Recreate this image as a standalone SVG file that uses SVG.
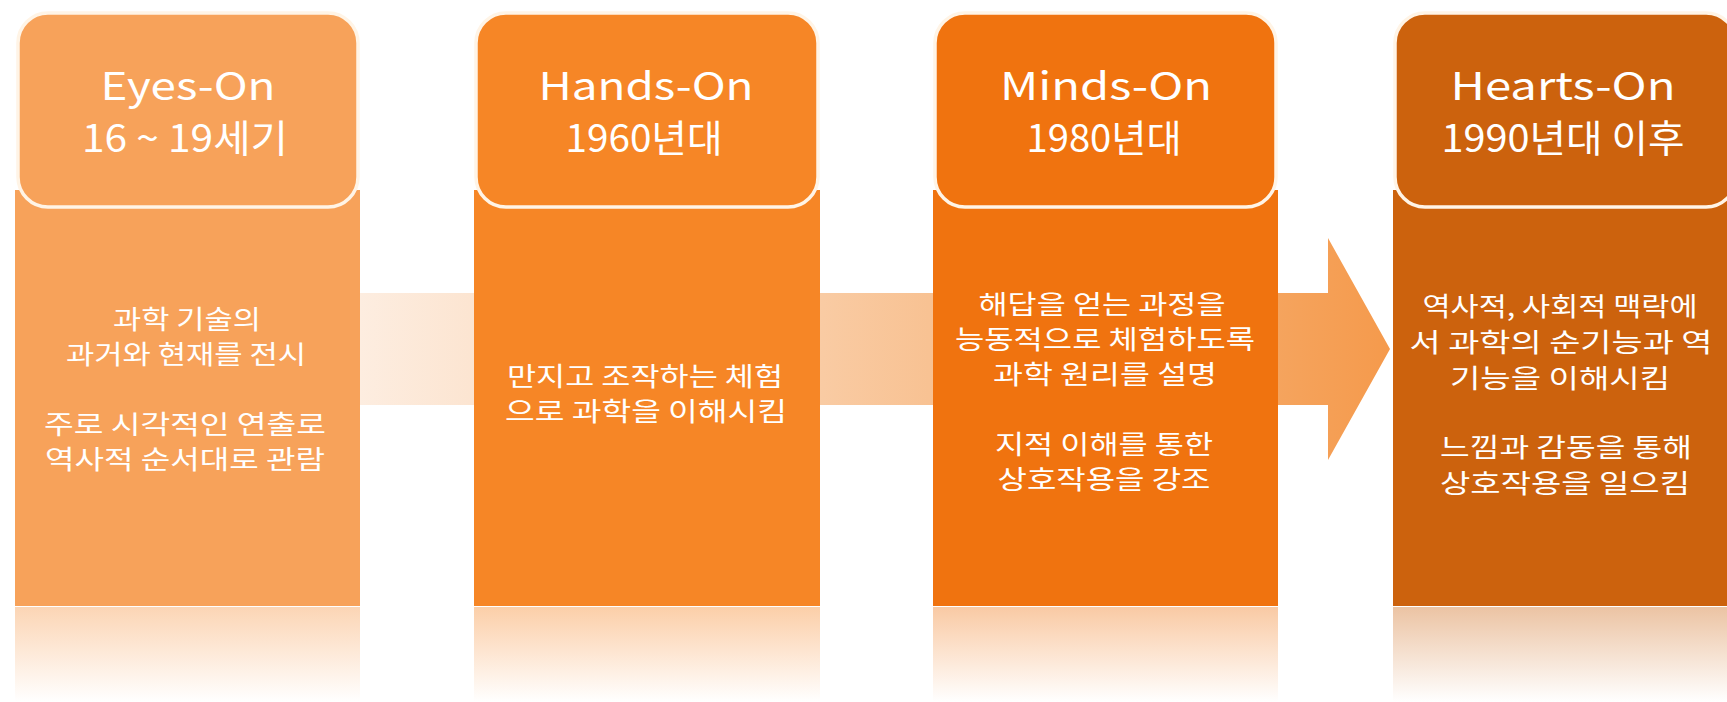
<svg xmlns="http://www.w3.org/2000/svg" width="1727" height="702" viewBox="0 0 1727 702">
<style>
.hd{font-family:"Noto Sans CJK KR","Noto Sans",sans-serif;font-size:38px;fill:#ffffff;text-anchor:middle}
.bd{font-family:"Noto Sans CJK KR","Noto Sans",sans-serif;font-size:26px;fill:#ffffff;text-anchor:middle}
.cap{stroke:#FFF4E6;stroke-width:3.5}
</style>
<defs>
<linearGradient id="arrowGrad" gradientUnits="userSpaceOnUse" x1="360" y1="0" x2="1390" y2="0">
<stop offset="0" stop-color="#FDEDE0"/>
<stop offset="0.45" stop-color="#F9CBA3"/>
<stop offset="0.9" stop-color="#F5A35C"/>
<stop offset="1" stop-color="#F59A4C"/>
</linearGradient>
<linearGradient id="ref1" x1="0" y1="0" x2="0" y2="1"><stop offset="0" stop-color="#F7A25A" stop-opacity="0.45"/><stop offset="1" stop-color="#F7A25A" stop-opacity="0"/></linearGradient>
<linearGradient id="ref2" x1="0" y1="0" x2="0" y2="1"><stop offset="0" stop-color="#F68626" stop-opacity="0.4"/><stop offset="1" stop-color="#F68626" stop-opacity="0"/></linearGradient>
<linearGradient id="ref3" x1="0" y1="0" x2="0" y2="1"><stop offset="0" stop-color="#F0730F" stop-opacity="0.38"/><stop offset="1" stop-color="#F0730F" stop-opacity="0"/></linearGradient>
<linearGradient id="ref4" x1="0" y1="0" x2="0" y2="1"><stop offset="0" stop-color="#CC620D" stop-opacity="0.38"/><stop offset="1" stop-color="#CC620D" stop-opacity="0"/></linearGradient>
</defs>
<rect width="1727" height="702" fill="#ffffff"/>
<g id="connectors">
<polygon points="200,293 1328,293 1328,238 1390,349 1328,460 1328,405 200,405" fill="url(#arrowGrad)"/>
</g>
<g id="node-eyes-on">
<rect x="15" y="190" width="345" height="416" fill="#F7A25A"/>
<rect x="15" y="607" width="345" height="95" fill="url(#ref1)"/>
<rect class="cap" x="18" y="13" width="340" height="194" rx="30" fill="#F7A25A"/>
<text class="hd" x="188" y="100" textLength="175" lengthAdjust="spacingAndGlyphs">Eyes-On</text>
<text class="hd" x="185" y="152" textLength="206" lengthAdjust="spacingAndGlyphs">16 ~ 19세기</text>
<text class="bd" x="187" y="329" textLength="148" lengthAdjust="spacingAndGlyphs">과학 기술의</text>
<text class="bd" x="186" y="364" textLength="240" lengthAdjust="spacingAndGlyphs">과거와 현재를 전시</text>
<text class="bd" x="185" y="434" textLength="282" lengthAdjust="spacingAndGlyphs">주로 시각적인 연출로</text>
<text class="bd" x="185" y="469" textLength="280" lengthAdjust="spacingAndGlyphs">역사적 순서대로 관람</text>
</g>
<g id="node-hands-on">
<rect x="474" y="190" width="346" height="416" fill="#F68626"/>
<rect x="474" y="607" width="346" height="95" fill="url(#ref2)"/>
<rect class="cap" x="476" y="13" width="342" height="194" rx="30" fill="#F68626"/>
<text class="hd" x="646" y="100" textLength="215" lengthAdjust="spacingAndGlyphs">Hands-On</text>
<text class="hd" x="644" y="152" textLength="157" lengthAdjust="spacingAndGlyphs">1960년대</text>
<text class="bd" x="645" y="386" textLength="276" lengthAdjust="spacingAndGlyphs">만지고 조작하는 체험</text>
<text class="bd" x="646" y="421" textLength="282" lengthAdjust="spacingAndGlyphs">으로 과학을 이해시킴</text>
</g>
<g id="node-minds-on">
<rect x="933" y="190" width="345" height="416" fill="#F0730F"/>
<rect x="933" y="607" width="345" height="95" fill="url(#ref3)"/>
<rect class="cap" x="935" y="13" width="341" height="194" rx="30" fill="#F0730F"/>
<text class="hd" x="1106" y="100" textLength="212" lengthAdjust="spacingAndGlyphs">Minds-On</text>
<text class="hd" x="1104" y="152" textLength="155" lengthAdjust="spacingAndGlyphs">1980년대</text>
<text class="bd" x="1102" y="314" textLength="247" lengthAdjust="spacingAndGlyphs">해답을 얻는 과정을</text>
<text class="bd" x="1105" y="349" textLength="300" lengthAdjust="spacingAndGlyphs">능동적으로 체험하도록</text>
<text class="bd" x="1105" y="384" textLength="224" lengthAdjust="spacingAndGlyphs">과학 원리를 설명</text>
<text class="bd" x="1104" y="454" textLength="218" lengthAdjust="spacingAndGlyphs">지적 이해를 통한</text>
<text class="bd" x="1104" y="489" textLength="213" lengthAdjust="spacingAndGlyphs">상호작용을 강조</text>
</g>
<g id="node-hearts-on">
<rect x="1393" y="190" width="345" height="416" fill="#CC620D"/>
<rect x="1393" y="607" width="345" height="95" fill="url(#ref4)"/>
<rect class="cap" x="1395" y="13" width="341" height="194" rx="30" fill="#CC620D"/>
<text class="hd" x="1563" y="100" textLength="225" lengthAdjust="spacingAndGlyphs">Hearts-On</text>
<text class="hd" x="1563" y="152" textLength="243" lengthAdjust="spacingAndGlyphs">1990년대 이후</text>
<text class="bd" x="1560" y="316" textLength="275" lengthAdjust="spacingAndGlyphs">역사적, 사회적 맥락에</text>
<text class="bd" x="1561" y="352" textLength="303" lengthAdjust="spacingAndGlyphs">서 과학의 순기능과 역</text>
<text class="bd" x="1560" y="388" textLength="220" lengthAdjust="spacingAndGlyphs">기능을 이해시킴</text>
<text class="bd" x="1566" y="457" textLength="252" lengthAdjust="spacingAndGlyphs">느낌과 감동을 통해</text>
<text class="bd" x="1565" y="493" textLength="250" lengthAdjust="spacingAndGlyphs">상호작용을 일으킴</text>
</g>
</svg>
